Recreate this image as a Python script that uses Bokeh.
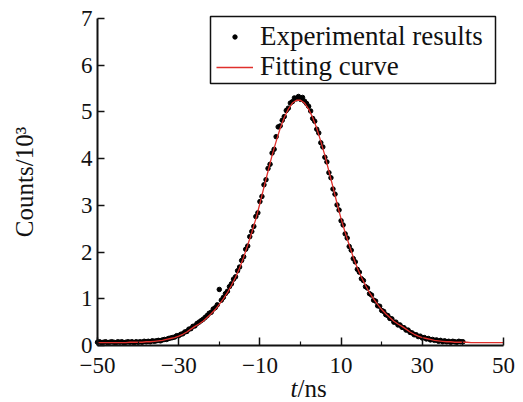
from bokeh.plotting import figure
from bokeh.models import FixedTicker, Legend, LegendItem, Label, BoxAnnotation
from bokeh.embed import file_html
from bokeh.resources import INLINE

# ---- data ----
# Fitting curve, sampled every 1 ns from -50 to 50 ns (counts / 10^3)
fit_t = list(range(-50, 51))
fit_counts = [
    0.06, 0.06, 0.06, 0.06, 0.06, 0.06, 0.06, 0.06,          # -50 .. -43
    0.07, 0.07, 0.07, 0.07, 0.08, 0.08,                      # -42 .. -37
    0.09, 0.10, 0.11, 0.13, 0.15, 0.17, 0.20,                # -36 .. -30
    0.24, 0.29, 0.35, 0.41, 0.46, 0.52, 0.60, 0.68, 0.77, 0.88,
    1.00, 1.13, 1.29, 1.46, 1.66, 1.89, 2.15, 2.42, 2.71, 3.04,
    3.39, 3.73, 4.07, 4.37, 4.65, 4.88, 5.06, 5.19, 5.25,    # -29 .. -1
    5.25, 5.19, 5.06, 4.88, 4.65, 4.37, 4.07, 3.73, 3.39, 3.04,
    2.71, 2.42, 2.15, 1.89, 1.66, 1.46, 1.29, 1.13, 1.00, 0.88,
    0.77, 0.68, 0.60, 0.52, 0.46, 0.41, 0.35, 0.29, 0.24,    # 0 .. 28
    0.20, 0.17, 0.15, 0.13, 0.11, 0.10, 0.09,                # 29 .. 35
    0.08, 0.08, 0.07, 0.07, 0.07, 0.07,                      # 36 .. 41
    0.06, 0.06, 0.06, 0.06, 0.06, 0.06, 0.06, 0.06, 0.06,    # 42 .. 50
]

# Experimental results, every 0.5 ns from -50 to 40 ns (counts / 10^3)
exp_t = [-50 + 0.5 * i for i in range(181)]
exp_counts = [
    # -50 .. -40
    0.07, 0.08, 0.06, 0.07, 0.08, 0.06, 0.07, 0.08, 0.07, 0.06, 0.08,
    0.07, 0.08, 0.06, 0.07, 0.08, 0.07, 0.08, 0.06, 0.08, 0.07,
    # -39.5 .. -30
    0.08, 0.07, 0.09, 0.08, 0.09, 0.08, 0.10, 0.09, 0.10, 0.11,
    0.10, 0.12, 0.13, 0.13, 0.15, 0.16, 0.17, 0.18, 0.21, 0.21,
    # -29.5 .. -20
    0.24, 0.25, 0.29, 0.30, 0.35, 0.36, 0.41, 0.42, 0.47, 0.50,
    0.53, 0.56, 0.60, 0.64, 0.69, 0.71, 0.78, 0.81, 0.87, 1.20,
    # -19.5 .. -10
    0.97, 1.03, 1.11, 1.16, 1.26, 1.32, 1.42, 1.47, 1.60, 1.68,
    1.82, 1.90, 2.06, 2.13, 2.33, 2.44, 2.55, 2.76, 2.84, 3.08,
    # -9.5 .. 0
    3.19, 3.44, 3.55, 3.79, 3.88, 4.12, 4.20, 4.47, 4.68, 4.70,
    4.82, 4.90, 5.03, 5.08, 5.19, 5.22, 5.30, 5.28, 5.33, 5.27,
    # 0.5 .. 10
    5.31, 5.23, 5.18, 5.12, 5.02, 4.86, 4.80, 4.63, 4.55, 4.34,
    4.25, 4.03, 3.93, 3.70, 3.59, 3.35, 3.24, 3.01, 2.90, 2.67,
    # 10.5 .. 20
    2.58, 2.39, 2.30, 2.12, 2.04, 1.86, 1.79, 1.63, 1.57, 1.43,
    1.39, 1.26, 1.23, 1.11, 1.08, 0.97, 0.95, 0.85, 0.84, 0.75,
    # 20.5 .. 30
    0.73, 0.66, 0.64, 0.58, 0.57, 0.50, 0.50, 0.44, 0.44, 0.39,
    0.38, 0.33, 0.33, 0.28, 0.27, 0.23, 0.23, 0.19, 0.20, 0.16,
    # 30.5 .. 40
    0.17, 0.14, 0.15, 0.12, 0.13, 0.11, 0.12, 0.09, 0.11, 0.08,
    0.10, 0.08, 0.09, 0.07, 0.09, 0.08, 0.07, 0.09, 0.08, 0.08,
]
assert len(fit_t) == len(fit_counts)
assert len(exp_t) == len(exp_counts)

x_major = [-50, -30, -10, 10, 30, 50]
x_minor = [-40, -20, 0, 20, 40]
x_tick_labels = {-50: "\u221250", -30: "\u221230", -10: "\u221210",
                 10: "10", 30: "30", 50: "50"}
y_major = [0, 1, 2, 3, 4, 5, 6, 7]

series_names = ["Experimental results", "Fitting curve"]

# ---- layout geometry (pixels) ----
W, H = 523, 402
AX_LEFT, AX_RIGHT = 97, 503      # x = -50 and x = 50
AX_TOP, AX_BOTTOM = 18, 345      # y = 7 and y = 0
PX_X = (AX_RIGHT - AX_LEFT) / 100.0
PX_Y = (AX_BOTTOM - AX_TOP) / 7.0
X_START = -50 - AX_LEFT / PX_X
X_END = 50 + (W - AX_RIGHT) / PX_X
Y_END = 7 + AX_TOP / PX_Y
Y_START = -(H - AX_BOTTOM) / PX_Y

FONT = "Liberation Serif"
INK = "#111111"
RED = "#e0302c"

p = figure(width=W, height=H, x_range=(X_START, X_END), y_range=(Y_START, Y_END),
           output_backend="svg", toolbar_location=None,
           min_border_left=0, min_border_right=0,
           min_border_top=0, min_border_bottom=0)
p.outline_line_color = None
p.xgrid.visible = False
p.ygrid.visible = False

exp_r = p.scatter(exp_t, exp_counts, size=4.5, color="black")
fit_r = p.line(fit_t, fit_counts, line_color=RED, line_width=1.3)

# x axis (pinned at y = 0)
xa = p.xaxis[0]
xa.fixed_location = 0
xa.bounds = (-50, 50)
xa.ticker = FixedTicker(ticks=x_major, minor_ticks=x_minor)
xa.major_label_overrides = x_tick_labels
# y axis (pinned at x = -50)
ya = p.yaxis[0]
ya.fixed_location = -50
ya.bounds = (0, 7)
ya.ticker = FixedTicker(ticks=y_major, minor_ticks=[])
ya.axis_label = "Counts/10\u00b3"
ya.axis_label_text_font = FONT
ya.axis_label_text_font_size = "25px"
ya.axis_label_text_font_style = "normal"
ya.axis_label_text_color = INK
ya.axis_label_standoff = 40

for ax in (xa, ya):
    ax.axis_line_color = INK
    ax.axis_line_width = 2
    ax.major_tick_in = 8
    ax.major_tick_out = 0
    ax.minor_tick_in = 4
    ax.minor_tick_out = 0
    ax.major_tick_line_color = INK
    ax.major_tick_line_width = 1.5
    ax.minor_tick_line_color = INK
    ax.minor_tick_line_width = 1.2
    ax.major_label_text_font = FONT
    ax.major_label_text_font_size = "23px"
    ax.major_label_text_color = INK
ya.major_tick_in = 7
ya.major_label_standoff = 5
xa.major_label_standoff = 12

# x axis title: italic t followed by /ns (screen units from the canvas bottom-left)
p.add_layout(Label(x=297, y=14, x_units="screen", y_units="screen", text="t",
                   text_font=FONT, text_font_size="25px", text_font_style="italic",
                   text_color=INK, text_align="right", text_baseline="alphabetic"))
p.add_layout(Label(x=297, y=14, x_units="screen", y_units="screen", text="/ns",
                   text_font=FONT, text_font_size="25px", text_color=INK,
                   text_align="left", text_baseline="alphabetic"))

# legend frame (page box 210..495 x 16..83)
p.add_layout(BoxAnnotation(left=(210 - AX_LEFT) / PX_X - 50, right=(495 - AX_LEFT) / PX_X - 50,
                           top=(AX_BOTTOM - 16) / PX_Y, bottom=(AX_BOTTOM - 83) / PX_Y,
                           fill_color="white", fill_alpha=1.0,
                           line_color=INK, line_width=1.5, line_alpha=1.0))


def legend_row(label, renderer, row_center, glyph_h):
    lg = Legend(items=[LegendItem(label=label, renderers=[renderer])],
                location=(216, H - row_center - 15))
    lg.border_line_color = None
    lg.background_fill_alpha = 0.0
    lg.label_text_font = FONT
    lg.label_text_font_size = "27px"
    lg.label_text_color = INK
    lg.glyph_width = 37
    lg.glyph_height = glyph_h
    lg.label_height = 30
    lg.label_standoff = 7
    lg.padding = 0
    lg.margin = 0
    return lg


p.add_layout(legend_row(series_names[0], exp_r, 37, 11))
p.add_layout(legend_row(series_names[1], fit_r, 67, 30))

open("out.html", "w").write(file_html(p, INLINE))
